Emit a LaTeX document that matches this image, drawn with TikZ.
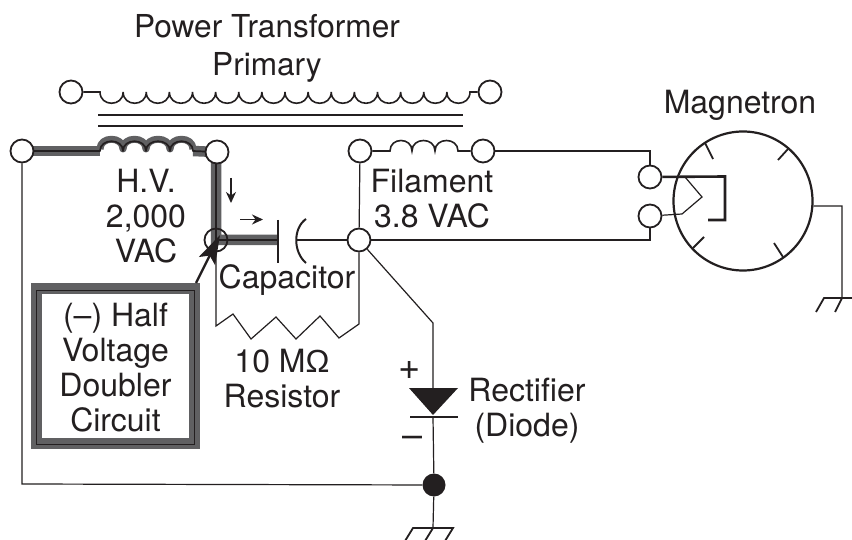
\documentclass[tikz,border=0pt]{standalone}
\usetikzlibrary{arrows.meta}
\usepackage{fontspec}
\setmainfont{TeX Gyre Heros}
\newfontfamily\omegafont{Liberation Sans}
\definecolor{ink}{HTML}{231F20}
\definecolor{hv}{HTML}{606062}
\tikzset{
  x=1pt,y=-1pt,
  wire/.style={draw=ink,line width=1.2pt},
  thick wire/.style={draw=ink,line width=2.6pt},
  hvwire/.style={draw=hv,line width=10.5pt},
  hvcoil/.style={draw=hv,line width=7pt,line join=round},
  hvcore/.style={draw=ink,line width=1.7pt,line join=round},
  term/.style={circle,draw=ink,line width=1.8pt,fill=white,minimum size=23pt,inner sep=0pt},
  opent/.style={circle,draw=ink,line width=1.8pt,minimum size=23pt,inner sep=0pt},
  lbl/.style={text=ink,font=\fontsize{32}{35}\selectfont,align=center,inner sep=0pt},
}
\begin{document}
\begin{tikzpicture}
\useasboundingbox[fill=white] (0,0) rectangle (852,540);
\coordinate (pA) at (100,92); \coordinate (pB) at (470,92);
\coordinate (fA) at (390,151); \coordinate (fB) at (458,151);
% HV wires
\draw[hvwire] (22,151) -- (100,151);
\draw[hvwire] (193,151) -- (216,152) -- (216,240) -- (278,240);
\draw[hvcoil] (100,149) .. controls (100,136) and (123,136) .. (123,149) .. controls (123,136) and (146,136) .. (146,149) .. controls (146,136) and (170,136) .. (170,149) .. controls (170,136) and (193,136) .. (193,149);
\draw[hvcore] (22,151) -- (100,151) .. controls (100,138) and (123,138) .. (123,151) .. controls (123,138) and (146,138) .. (146,151) .. controls (146,138) and (170,138) .. (170,151) .. controls (170,138) and (193,138) .. (193,151) -- (216,152) -- (216,240) -- (278,240);
% primary
\node[term] (p1) at (71,92) {};
\node[term] (p2) at (490,92) {};
\draw[wire,line width=1.6pt] (p1) -- (pA) \foreach \i in {0,...,15} {.. controls +(0,15) and +(0,15) .. ++(23.125,0)} -- (p2);
% core
\draw[wire] (98,115) -- (463,115);
\draw[wire,line width=2pt] (98,126) -- (463,126);
% terminals
\node[term] (h1) at (22,151) {};
\node[term] (h2) at (217,152) {};
\node[opent] (hm) at (216,240) {};
\node[term] (f1) at (360,151) {};
\node[term] (f2) at (483,151) {};
\node[term] (cn) at (359,240) {};
\node[term] (mt) at (650,177) {};
\node[term] (mb) at (650,216) {};
% filament
\draw[wire,line width=1.6pt] (f1) -- (fA) .. controls (390,137) and (412,137) .. (412,151) .. controls (412,137) and (435,137) .. (435,151) .. controls (435,137) and (458,137) .. (fB) -- (f2);
\draw[wire] (f2) -- (650,151) -- (mt);
\draw[wire] (cn) -- (650,240) -- (mb);
\draw[wire] (f1) -- (cn);
% capacitor
\draw[wire,line width=2pt] (278,220) -- (278,263);
\coordinate (capc) at (297,240);
\draw[wire,line width=2pt] (306,219) .. controls (293,228) and (293,252) .. (306,263);
\draw[wire] (capc) -- (cn);
% resistor
\coordinate (r1) at (216,326);
\draw[wire] (hm) -- (r1) -- (233,314) -- (251,339) -- (276,317) -- (296,339) -- (320,316) -- (339,338) -- (359,324) -- (cn);
% diode
\coordinate (dj) at (433,323);
\coordinate (dt) at (433,388);
\coordinate (db) at (433,417);
\draw[wire] (cn) -- (dj) -- (dt);
\fill[ink] (409,388) -- (458,388) -- (433,415) -- cycle;
\draw[wire,line width=1.8pt] (410,417) -- (458,417);
\node[circle,fill=ink,minimum size=23pt,inner sep=0pt] (dot) at (434,485) {};
\draw[wire] (db) -- (dot);
\draw[wire] (dot) -- (22,484) -- (h1);
% ground 1
\coordinate (g1) at (433,528);
\draw[wire] (dot) -- (g1);
\draw[wire,line width=1.8pt] (405,541) -- (413,528) -- (453,528) -- (445,541);
\draw[wire,line width=1.8pt] (g1) -- (425,541);
% magnetron
\node[circle,draw=ink,line width=2.2pt,minimum size=139pt,inner sep=0pt] (mag) at (743,201) {};
\draw[wire,line width=1.8pt] (705,143) -- (713,159);
\draw[wire,line width=1.8pt] (788,149) -- (778,160);
\draw[wire,line width=1.8pt] (693,248) -- (704,237);
\draw[wire,line width=1.8pt] (783,257) -- (774,243);
\draw[thick wire] (mt) -- (725,176.5) -- (725,220) -- (708,220);
\draw[wire] (mb) -- (682,214) -- (702,197) -- (685,177);
\coordinate (g2) at (842,298);
\draw[wire] (mag.-4) -- (842,206) -- (g2);
\draw[wire,line width=1.8pt] (816,312) -- (824,298) -- (852,298);
\draw[wire,line width=1.8pt] (g2) -- (835,312);
% arrows
\coordinate (a1) at (231,178); \coordinate (a2) at (231,203);
\coordinate (a3) at (240,219.5); \coordinate (a4) at (263,219.5);
\draw[ink,line width=1.8pt,-{Stealth[length=11pt,width=10pt]}] (a1) -- (a2);
\draw[ink,line width=1.8pt,-{Stealth[length=11pt,width=10pt]}] (a3) -- (a4);
% box
\node[draw=hv,line width=10.5pt,minimum width=158pt,minimum height=154.5pt,inner sep=0pt,fill=white] (box) at (115.5,366) {};
\node[draw=ink,line width=1.3pt,minimum width=158pt,minimum height=154.5pt,inner sep=0pt,lbl] (boxt) at (115.5,367.5) {(–) Half\\Voltage\\Doubler\\Circuit};
\coordinate (at) at (220,235);
\draw[ink,line width=2.4pt,-{Stealth[length=29pt,width=18pt,inset=6pt]}] (196,283) -- (at);
% labels
\node[lbl,font=\fontsize{31.6}{38}\selectfont] (tt) at (267,48) {Power Transformer\\Primary};
\node[lbl] (hvl) at (146,216) {H.V.\\2,000\\VAC};
\node[lbl] (fl) at (432,199) {Filament\\3.8 VAC};
\node[lbl] (cl) at (287,280) {Capacitor};
\node[lbl] (ml) at (740,105) {Magnetron};
\node[lbl] (rl) at (282,379) {10 M{\omegafont Ω}\\Resistor};
\node[lbl] (dl) at (527,411) {Rectifier\\(Diode)};
\node[lbl,font=\fontsize{38}{38}\selectfont] (pl) at (410,370) {+};
\node[lbl,font=\fontsize{36}{36}\selectfont] (ml2) at (413,442) {–};
\end{tikzpicture}
\end{document}
